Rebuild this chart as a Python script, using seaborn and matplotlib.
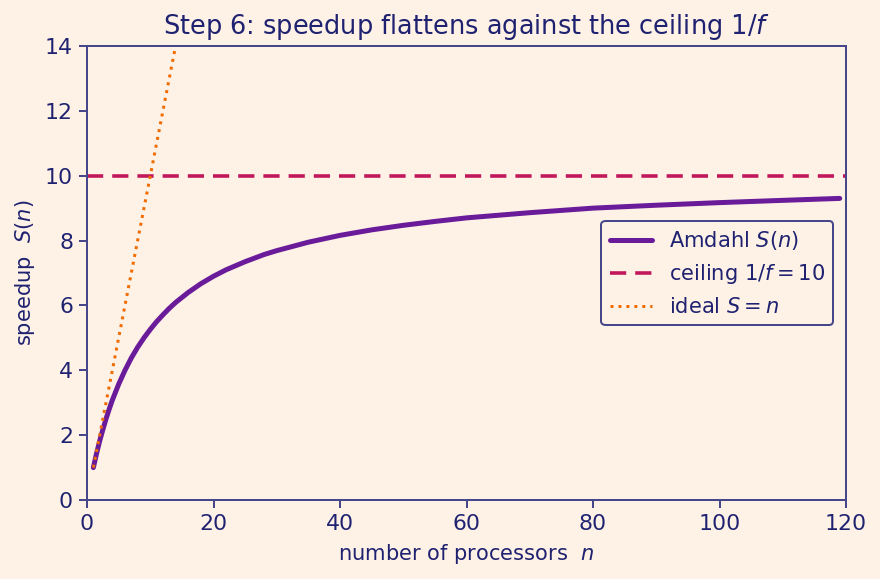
import numpy as np
import pandas as pd
import matplotlib
matplotlib.use("Agg")
import matplotlib.pyplot as plt
import seaborn as sns

# values (serial fraction f = 0.1)
n_procs = [1, 1.5, 2, 2.5, 3, 3.5, 4, 5, 6, 7, 8, 9, 10, 11, 12, 13, 14, 16,
           18, 20, 22, 25, 28, 30, 35, 40, 45, 50, 55, 60, 70, 80, 90, 100,
           110, 119]
speedup = [1.0, 1.43, 1.82, 2.17, 2.5, 2.8, 3.08, 3.57, 4.0, 4.38, 4.71, 5.0,
           5.26, 5.5, 5.71, 5.91, 6.09, 6.4, 6.67, 6.9, 7.1, 7.35, 7.57, 7.69,
           7.95, 8.16, 8.33, 8.47, 8.59, 8.7, 8.86, 9.0, 9.09, 9.17, 9.24,
           9.3]
ceiling = 10
ideal_n = [1, 120]
ideal_s = [1, 120]

bg = "#fef1e6"
ink = "#1f2270"
spine = "#45478a"

sns.set_theme(style="white", rc={
    "figure.facecolor": bg, "axes.facecolor": bg,
    "axes.edgecolor": spine, "text.color": ink,
    "axes.labelcolor": ink, "xtick.color": ink, "ytick.color": ink,
})
plt.rcParams["font.family"] = ["DejaVu Sans"]

fig = plt.figure(figsize=(880 / 144, 579 / 144), dpi=144)
ax = fig.add_axes([0.0989, 0.1364, 0.8625, 0.7842])

df = pd.DataFrame({"n": n_procs, "S": speedup})
sns.lineplot(data=df, x="n", y="S", ax=ax, color="#6a1b9a", lw=2.5,
             label=r"Amdahl $S(n)$")
ax.axhline(ceiling, color="#c2185b", lw=1.8, ls=(0, (4.5, 2.5)),
           label=r"ceiling $1/f = 10$")
sns.lineplot(x=ideal_n, y=ideal_s, ax=ax, color="#ef6c00", lw=1.5,
             ls=":", label=r"ideal $S = n$")

ax.set_xlim(0, 120)
ax.set_ylim(0, 14)
ax.set_xticks(range(0, 121, 20))
ax.set_yticks(range(0, 15, 2))
ax.tick_params(axis="both", labelsize=11, length=4, width=1, color=spine,
               bottom=True, left=True, pad=3)
for s in ax.spines.values():
    s.set_linewidth(1)
ax.set_xlabel(r"number of processors  $n$", fontsize=10.5)
ax.set_ylabel(r"speedup  $S(n)$", fontsize=10.5)
ax.set_title(r"Step 6: speedup flattens against the ceiling $1/f$",
             fontsize=12.8, color=ink)

leg = ax.legend(loc="center right", fontsize=10.5, frameon=True,
                facecolor=bg, edgecolor=spine, framealpha=1,
                bbox_to_anchor=(0.997, 0.5))
leg.get_frame().set_linewidth(1)
for t in leg.get_texts():
    t.set_color(ink)

fig.savefig("out.png", dpi=144, facecolor=bg)
